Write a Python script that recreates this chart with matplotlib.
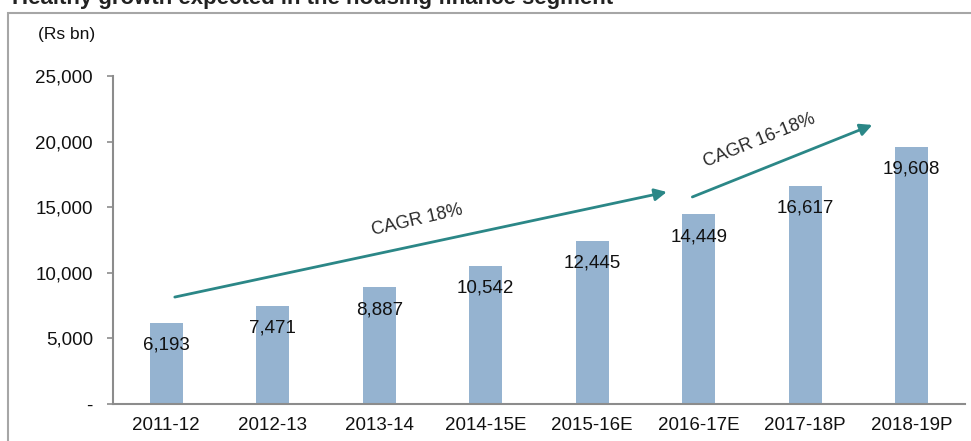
import numpy as np
import matplotlib
matplotlib.use('Agg')
import matplotlib.pyplot as plt
from matplotlib.patches import Rectangle
from matplotlib.ticker import FuncFormatter

plt.rcParams['font.family'] = ['Liberation Sans', 'DejaVu Sans']

# data
years = ['2011-12', '2012-13', '2013-14', '2014-15E', '2015-16E', '2016-17E', '2017-18P', '2018-19P']
values = [6193, 7471, 8887, 10542, 12445, 14449, 16617, 19608]
y_ticks = [0, 5000, 10000, 15000, 20000, 25000]

# CAGR arrows: (x0, y0, x1, y1) in data coords, label pos and rotation
cagr_arrows = [
    (0.08, 8150, 4.70, 16160),
    (4.94, 15780, 6.63, 21270),
]
cagr_labels = [
    ('CAGR 18%', 2.36, 14000, 13),
    ('CAGR 16-18%', 5.57, 20100, 22),
]

bar_color = '#95b3d0'
arrow_color = '#2b8787'
axis_color = '#8c8c8c'
text_color = '#111111'

fig = plt.figure(figsize=(9.71, 4.41), dpi=100)
ax = fig.add_axes([0.1164, 0.0839, 0.8774, 0.7438])

x = np.arange(len(years))
ax.bar(x, values, width=0.31, color=bar_color, zorder=2)

for xi, v in zip(x, values):
    ax.annotate(f'{v:,}', (xi, v), xytext=(0, -16), textcoords='offset points',
                ha='center', va='center', fontsize=13.5, color=text_color, zorder=3)

for x0, y0, x1, y1 in cagr_arrows:
    ax.annotate('', xy=(x1, y1), xytext=(x0, y0),
                arrowprops=dict(arrowstyle='-|>', color=arrow_color, lw=2,
                                mutation_scale=18, shrinkA=0, shrinkB=0), zorder=4)
for txt, tx, ty, rot in cagr_labels:
    ax.text(tx, ty, txt, rotation=rot, ha='center', va='center',
            fontsize=13, color='#2a2a2a', rotation_mode='anchor')

ax.set_xlim(-0.5, len(years) - 0.5)
ax.set_ylim(0, 25000)
ax.set_xticks(x)
ax.set_xticklabels(years, fontsize=13.5, color=text_color)
ax.set_yticks(y_ticks)
ax.yaxis.set_major_formatter(FuncFormatter(lambda v, p: '-' if v == 0 else f'{int(v):,}'))
ax.tick_params(axis='y', labelsize=13.5, colors=text_color, length=4.5, width=1.2, color=axis_color, pad=10)
ax.tick_params(axis='x', length=0, pad=9)

for s in ['top', 'right']:
    ax.spines[s].set_visible(False)
for s in ['left', 'bottom']:
    ax.spines[s].set_color(axis_color)
    ax.spines[s].set_linewidth(1.5)

# outer frame and cut-off title
fig.patches.append(Rectangle((8 / 971, -0.1), 1.2, 1.1 - 13 / 441, transform=fig.transFigure,
                             fill=False, edgecolor='#a6a6a6', linewidth=1.5))
fig.text(12 / 971, 1 - 4 / 441, 'Healthy growth expected in the housing finance segment',
         fontsize=16, fontweight='bold', color='#222222', va='baseline', ha='left')
fig.text(38 / 971, 1 - 34 / 441, '(Rs bn)', fontsize=12.5, color=text_color, va='center', ha='left')

fig.savefig('out.png', dpi=100)
